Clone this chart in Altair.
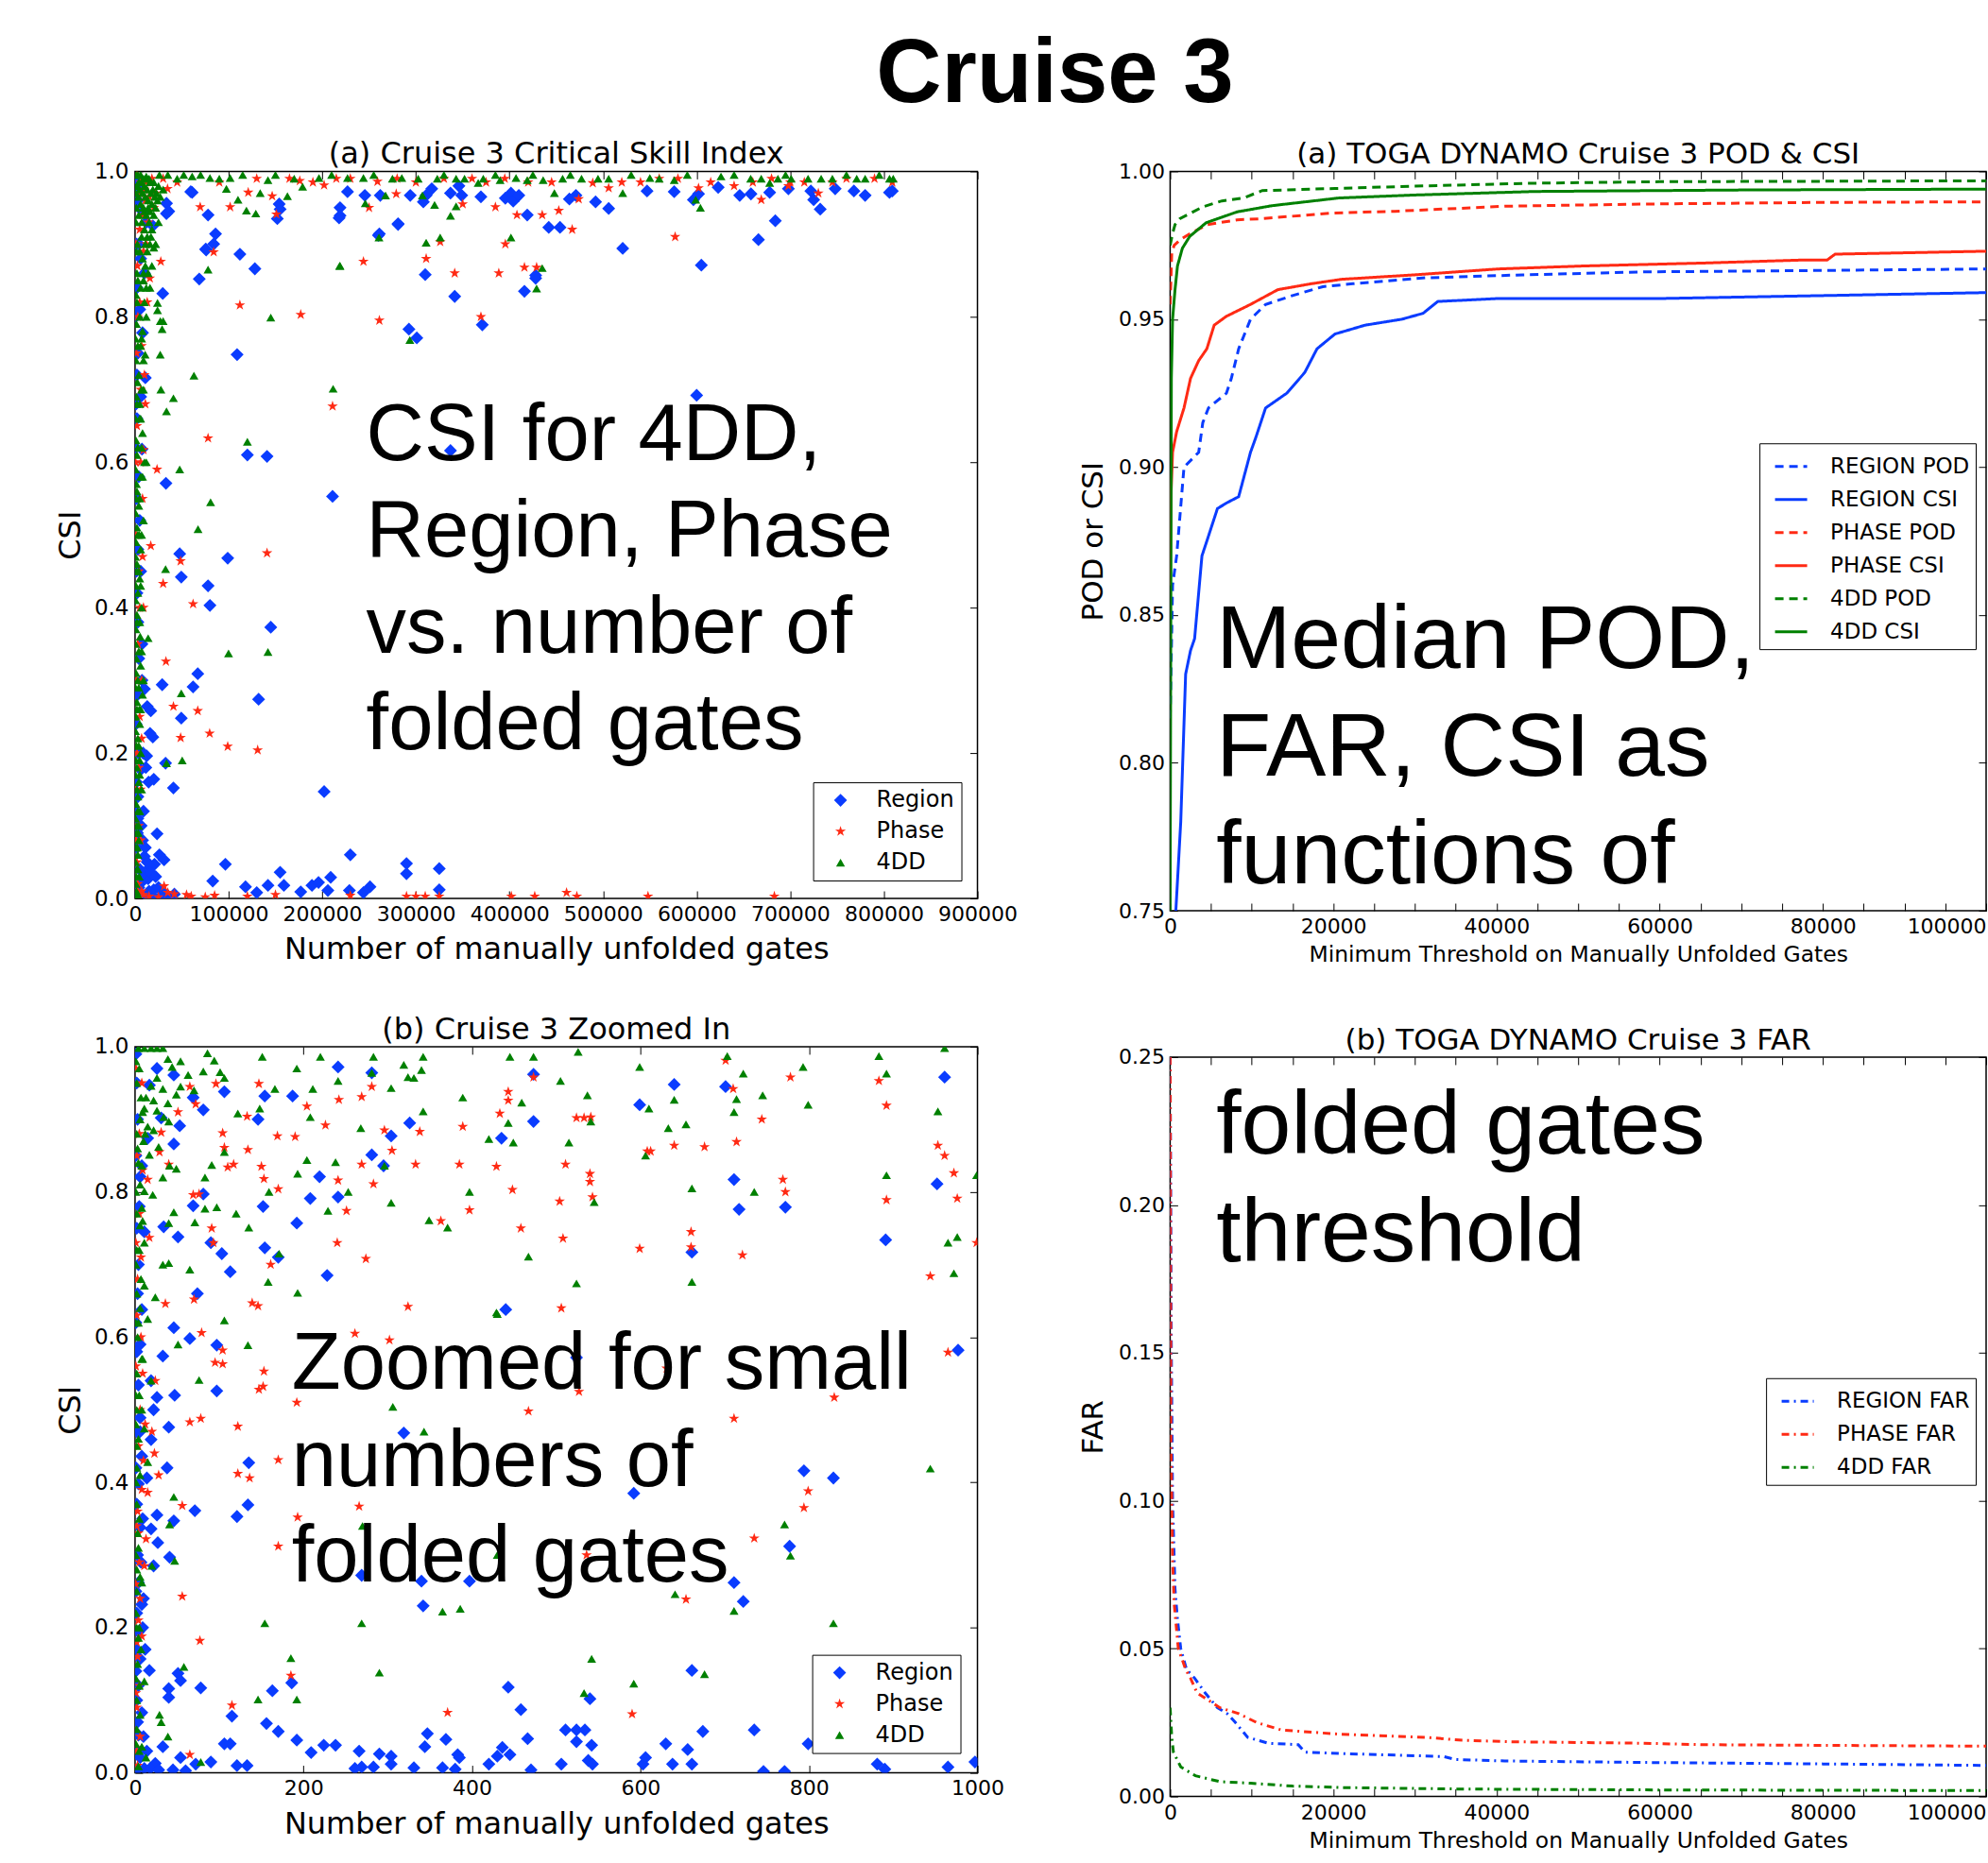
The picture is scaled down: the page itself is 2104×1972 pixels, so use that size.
import altair as alt
import pandas as pd

BLUE = "#0a3cff"
RED = "#ff2a14"
GREEN = "#008000"
TICK = 8

# ---------------- scatter panels: (gates, CSI) pairs ----------------
SCATTER_NAMES = ["Region", "Phase", "4DD"]
SCATTER_COLORS = [BLUE, RED, GREEN]
STAR = ("M0,-1L0.2245,-0.309L0.951,-0.309L0.363,0.118L0.588,0.809L0,0.382"
        "L-0.588,0.809L-0.363,0.118L-0.951,-0.309L-0.2245,-0.309Z")
SCATTER_SHAPES = ["diamond", STAR, "triangle-up"]
SCATTER_SIZES = [190, 90, 300]

A_REGION = [
    (2000, 0.99), (5000, 0.975), (3000, 0.96), (8000, 0.945), (12000, 0.93), (19000, 0.925), (4000, 0.9),
    (6000, 0.88), (10000, 0.86), (2000, 0.84), (29600, 0.832), (5000, 0.81), (8000, 0.778), (3000, 0.75),
    (11000, 0.716), (6000, 0.69), (2000, 0.66), (7400, 0.618), (4000, 0.58), (2000, 0.55), (5000, 0.52),
    (3000, 0.48), (6000, 0.45), (2000, 0.42), (7400, 0.35), (3000, 0.38), (4000, 0.33), (7400, 0.30),
    (10000, 0.288), (13000, 0.264), (16800, 0.258), (16000, 0.227), (19000, 0.222), (12400, 0.196),
    (6000, 0.177), (20000, 0.164), (3000, 0.14), (3000, 0.11), (23500, 0.089), (26000, 0.06), (31000, 0.053),
    (20800, 0.047), (16000, 0.043), (10000, 0.058), (14000, 0.027), (6000, 0.021), (5000, 0.04), (2000, 0.07),
    (8000, 0.08), (29000, 0.01), (35000, 0.004), (42000, 0.006), (12000, 0.005), (20000, 0.012), (1000, 0.003),
    (4000, 0.015), (9000, 0.035), (33600, 0.956), (36000, 0.945), (33500, 0.942),
    (500, 0.62), (1000, 0.55), (1500, 0.45), (500, 0.38), (2500, 0.28), (1000, 0.24), (3500, 0.2),
    (1500, 0.16), (500, 0.12), (2500, 0.09), (6500, 0.1), (9000, 0.12), (11000, 0.07), (13000, 0.05),
    (17000, 0.035), (22000, 0.03), (25000, 0.015), (15000, 0.01), (7000, 0.005), (18000, 0.004),
    (28000, 0.004), (8500, 0.2), (11500, 0.18), (14500, 0.16), (500, 0.8), (1500, 0.9), (2000, 0.72),
    (1000, 0.68),
    (59500, 0.972), (61000, 0.971), (76000, 0.892), (75500, 0.893), (68600, 0.852), (112000, 0.886),
    (128000, 0.866), (109000, 0.748), (120000, 0.61), (141000, 0.608), (211000, 0.553), (33000, 0.571),
    (47700, 0.474), (49400, 0.442), (99000, 0.468), (78000, 0.43), (80000, 0.403), (145000, 0.373),
    (67000, 0.309), (62000, 0.291), (29000, 0.294), (132000, 0.274), (49400, 0.248), (32600, 0.186),
    (41000, 0.152), (202000, 0.147), (230000, 0.06), (96500, 0.047), (83000, 0.024), (155000, 0.036),
    (118000, 0.016), (130000, 0.008), (142000, 0.018), (159000, 0.018), (177000, 0.009), (189000, 0.018),
    (196000, 0.022), (209000, 0.029), (206000, 0.011), (229000, 0.011), (244000, 0.008), (251000, 0.016),
    (290000, 0.048), (290000, 0.034), (325000, 0.041), (325000, 0.012), (78000, 0.94), (154000, 0.955),
    (152000, 0.935), (219000, 0.95), (219000, 0.939), (227000, 0.972), (245500, 0.967), (262000, 0.967),
    (281000, 0.928), (261000, 0.914), (294000, 0.967), (308000, 0.958), (311000, 0.967), (317000, 0.976),
    (337000, 0.97), (349000, 0.967), (346000, 0.98), (369500, 0.965), (395600, 0.963), (401600, 0.97),
    (404000, 0.959), (410000, 0.967), (419000, 0.94), (442000, 0.923), (454000, 0.923), (428000, 0.853),
    (428000, 0.857), (310000, 0.858), (341500, 0.828), (416000, 0.835), (371000, 0.789), (292600, 0.783),
    (301000, 0.771), (464000, 0.962), (471000, 0.967), (492000, 0.958), (506000, 0.949), (521000, 0.894),
    (547000, 0.973), (576000, 0.972), (605000, 0.871), (596500, 0.961), (602000, 0.969), (600000, 0.692),
    (623000, 0.978), (646000, 0.967), (658000, 0.969), (666000, 0.906), (684000, 0.932), (678000, 0.971),
    (698000, 0.976), (722000, 0.973), (725000, 0.961), (732000, 0.948), (748000, 0.976), (768000, 0.973),
    (780000, 0.967), (806000, 0.971), (809000, 0.973), (337000, 0.616), (84000, 0.9), (86000, 0.914),
    (155000, 0.948), (218000, 0.936), (281000, 0.927), (260000, 0.912),
]
A_PHASE = [
    (2000, 0.995), (6000, 0.985), (10000, 0.975), (15000, 0.965), (34700, 0.976), (20000, 0.95), (8000, 0.94),
    (27500, 0.876), (15800, 0.853), (12000, 0.9), (5000, 0.92), (9000, 0.617), (4000, 0.45), (16800, 0.485),
    (23500, 0.59), (3000, 0.8), (6000, 0.7), (2000, 0.65), (8000, 0.55), (3000, 0.35), (5000, 0.25),
    (2000, 0.2), (6000, 0.15), (4000, 0.1), (2000, 0.05), (7000, 0.3), (9000, 0.4), (3000, 0.02),
    (10000, 0.72), (5000, 0.82),
    (1000, 0.9), (1500, 0.75), (500, 0.6), (1000, 0.5), (1500, 0.3), (500, 0.15), (1000, 0.08), (2500, 0.87),
    (4500, 0.97), (12000, 0.985), (18000, 0.99), (22000, 0.97), (30000, 0.99), (45000, 0.985),
    (11000, 0.96), (14000, 0.93), (9000, 0.89), (13000, 0.82), (7000, 0.76), (11000, 0.68), (6000, 0.6),
    (8000, 0.47), (5000, 0.4), (7000, 0.22), (4000, 0.18), (6000, 0.08), (3000, 0.01),
    (90000, 0.985), (130000, 0.99), (165000, 0.99), (190000, 0.985), (215000, 0.99), (300000, 0.985),
    (330000, 0.99), (375000, 0.985), (395000, 0.99), (445000, 0.985), (540000, 0.985), (580000, 0.99),
    (615000, 0.985), (660000, 0.985), (680000, 0.99), (715000, 0.985), (745000, 0.985), (790000, 0.99),
    (7000, 0.01), (9000, 0.005), (15000, 0.003), (25000, 0.002), (55000, 0.005), (75000, 0.002),
    (85000, 0.004),
    (69600, 0.951), (101600, 0.951), (120900, 0.971), (146500, 0.966), (151000, 0.941), (176000, 0.987),
    (202000, 0.981), (250000, 0.95), (259000, 0.986), (279000, 0.969), (311000, 0.88), (326000, 0.903),
    (341500, 0.86), (350000, 0.955), (385000, 0.951), (388600, 0.86), (395600, 0.9), (408000, 0.94),
    (416000, 0.868), (429000, 0.868), (435000, 0.94), (452700, 0.946), (467000, 0.92), (474000, 0.962),
    (489000, 0.984), (506000, 0.977), (577000, 0.91), (602000, 0.977), (669000, 0.961), (698000, 0.98),
    (809000, 0.985), (244000, 0.876), (112000, 0.816), (177000, 0.803), (261000, 0.795), (369500, 0.8),
    (84000, 0.889), (78000, 0.633), (211000, 0.677), (141000, 0.475), (48700, 0.464), (30000, 0.433),
    (62000, 0.405), (33000, 0.326), (41000, 0.264), (67000, 0.258), (48700, 0.221), (79700, 0.227),
    (99000, 0.209), (131000, 0.204), (290000, 0.003), (300000, 0.003), (310000, 0.003), (325000, 0.003),
    (402000, 0.003), (427000, 0.003), (461000, 0.008), (472000, 0.003), (548000, 0.003), (683000, 0.003),
    (31000, 0.017), (35000, 0.008), (42000, 0.006), (60000, 0.003), (120000, 0.003), (150000, 0.005),
    (230000, 0.004), (700000, 0.985), (730000, 0.97), (760000, 0.99), (640000, 0.98), (560000, 0.99),
    (520000, 0.985), (420000, 0.985), (360000, 0.99), (230000, 0.99), (280000, 0.99),
]
A_4DD = [
    (1000, 0.995), (3000, 0.995), (6000, 0.995), (9000, 0.99), (12000, 0.993), (15000, 0.99), (20000, 0.985),
    (25000, 0.98), (2000, 0.98), (5000, 0.975), (8000, 0.97), (11000, 0.965), (14000, 0.96), (18000, 0.955),
    (22000, 0.95), (1500, 0.95), (4000, 0.94), (7000, 0.93), (10000, 0.92), (13000, 0.91), (16000, 0.9),
    (20000, 0.895), (2500, 0.9), (5000, 0.89), (8000, 0.88), (11000, 0.87), (14000, 0.86), (3000, 0.85),
    (6000, 0.84), (24000, 0.819), (27000, 0.794), (30000, 0.794), (2000, 0.82), (5000, 0.8), (8000, 0.78),
    (10800, 0.748), (3000, 0.76), (26900, 0.748), (4000, 0.72), (7000, 0.7), (27600, 0.7), (2000, 0.68),
    (33600, 0.67), (5000, 0.66), (8000, 0.64), (3000, 0.62), (12000, 0.6), (6000, 0.58), (2000, 0.56),
    (4000, 0.54), (9000, 0.52), (3000, 0.5), (6000, 0.48), (2000, 0.46), (5000, 0.44), (3000, 0.42),
    (7000, 0.4), (2000, 0.38), (14000, 0.358), (4000, 0.34), (6000, 0.32), (3000, 0.3), (8000, 0.28),
    (2000, 0.26), (5000, 0.24), (3000, 0.22), (6000, 0.2), (2000, 0.18), (4000, 0.16), (3000, 0.14),
    (5000, 0.12), (2000, 0.1), (4000, 0.08), (3000, 0.06), (2000, 0.04), (1000, 0.02), (3000, 0.005),
    (10000, 0.6), (9000, 0.3), (7000, 0.15),
    (500, 0.97), (1000, 0.93), (1500, 0.89), (2000, 0.86), (1000, 0.83), (1500, 0.79), (500, 0.77),
    (1000, 0.74), (2500, 0.71), (1500, 0.69), (500, 0.66), (1000, 0.63), (2000, 0.61), (500, 0.59),
    (1500, 0.57), (1000, 0.55), (500, 0.53), (2000, 0.51), (1000, 0.49), (500, 0.47), (1500, 0.45),
    (1000, 0.43), (500, 0.41), (2000, 0.39), (1000, 0.37), (500, 0.35), (1500, 0.33), (1000, 0.31),
    (500, 0.29), (2000, 0.27), (1000, 0.25), (500, 0.23), (1500, 0.21), (1000, 0.19), (500, 0.17),
    (2000, 0.15), (1000, 0.13), (500, 0.11), (1500, 0.09), (1000, 0.07), (500, 0.05), (1500, 0.03),
    (4000, 0.985), (7000, 0.985), (10000, 0.98), (13000, 0.975), (17000, 0.97), (21000, 0.965),
    (24000, 0.96), (16000, 0.945), (12000, 0.94), (9000, 0.95), (6000, 0.955), (3500, 0.965), (18000, 0.92),
    (15000, 0.93), (11000, 0.9), (7000, 0.91), (9000, 0.86), (12000, 0.84), (10000, 0.82), (6000, 0.76),
    (9000, 0.74), (5000, 0.68), (7000, 0.62), (4500, 0.5), (5500, 0.36), (4500, 0.26), (5000, 0.19),
    (3500, 0.09), (4500, 0.03),
    (16000, 0.985), (19000, 0.975), (23000, 0.97), (27000, 0.965), (30000, 0.975), (20000, 0.94),
    (25000, 0.93), (14000, 0.95), (10000, 0.945), (17000, 0.91), (22000, 0.9), (13000, 0.89), (18000, 0.87),
    (9000, 0.85), (16000, 0.84), (12000, 0.8), (7000, 0.77), (9000, 0.7), (6000, 0.66), (8000, 0.58),
    (5000, 0.55), (7000, 0.5), (4000, 0.45), (6000, 0.43), (5000, 0.38), (7000, 0.34), (4000, 0.29),
    (6000, 0.26), (4000, 0.21), (5000, 0.17), (3000, 0.12), (4000, 0.1), (2500, 0.07), (3000, 0.04),
    (1500, 0.01),
    (26000, 0.995), (35000, 0.995), (45000, 0.99), (52000, 0.995),
    (70000, 0.995), (90000, 0.99), (115000, 0.995), (150000, 0.995), (170000, 0.99), (210000, 0.995),
    (255000, 0.995), (275000, 0.99), (330000, 0.995), (385000, 0.995), (425000, 0.995), (465000, 0.995),
    (530000, 0.995), (560000, 0.99), (590000, 0.995), (640000, 0.995), (695000, 0.995), (760000, 0.995),
    (795000, 0.995), (810000, 0.99),
    (61000, 0.993), (80000, 0.991), (101600, 0.991), (97600, 0.976), (110000, 0.961), (119000, 0.946),
    (129000, 0.942), (133700, 0.97), (142000, 0.988), (162800, 0.966), (179000, 0.979), (196500, 0.991),
    (227000, 0.991), (244000, 0.991), (246000, 0.956), (267600, 0.967), (285000, 0.991), (302500, 0.99),
    (322900, 0.99), (343000, 0.99), (352000, 0.99), (372000, 0.99), (307000, 0.967), (320000, 0.954),
    (337000, 0.939), (343000, 0.952), (366600, 0.984), (390000, 0.988), (407000, 0.991), (419000, 0.988),
    (436000, 0.988), (448000, 0.97), (456800, 0.99), (477000, 0.99), (494600, 0.99), (506000, 0.99),
    (521000, 0.97), (550000, 0.991), (576000, 0.988), (599000, 0.961), (604000, 0.95), (626000, 0.993),
    (657700, 0.99), (669000, 0.99), (678000, 0.984), (686800, 0.99), (701000, 0.99), (719000, 0.99),
    (733000, 0.99), (745000, 0.99), (771000, 0.99), (780000, 0.99), (806000, 0.99), (311000, 0.902),
    (326000, 0.909), (260600, 0.909), (401600, 0.909), (435000, 0.867), (429000, 0.839), (293600, 0.768),
    (219000, 0.87), (78000, 0.865), (145000, 0.799), (218600, 0.87), (62900, 0.719), (41000, 0.688),
    (211600, 0.701), (120000, 0.628), (47700, 0.59), (80700, 0.545), (67300, 0.508), (32600, 0.453),
    (99900, 0.337), (142000, 0.339), (49400, 0.282), (33600, 0.186), (50400, 0.19), (28900, 0.783),
    (24000, 0.809),
]

C_REGION = [
    (46, 0.961), (69, 0.93), (81, 0.913), (106, 0.938), (26, 0.97), (17, 0.947), (31, 0.902), (46, 0.866),
    (53, 0.891), (69, 0.781), (81, 0.797), (34, 0.752), (51, 0.738), (90, 0.73), (103, 0.715), (113, 0.69),
    (74, 0.66), (97, 0.589), (97, 0.526), (47, 0.52), (26, 0.517), (46, 0.613), (65, 0.598), (33, 0.574),
    (40, 0.476), (38, 0.42), (46, 0.347), (71, 0.361), (121, 0.353), (134, 0.369), (135, 0.427), (26, 0.355),
    (27, 0.317), (41, 0.297), (19, 0.336), (22, 0.285), (154, 0.932), (146, 0.9), (152, 0.78), (154, 0.723),
    (170, 0.71), (187, 0.932), (192, 0.757), (208, 0.791), (219, 0.821), (228, 0.685), (241, 0.793),
    (241, 0.972), (281, 0.851), (281, 0.964), (295, 0.836), (304, 0.877), (326, 0.895), (319, 0.468),
    (269, 0.272), (340, 0.264), (342, 0.23), (397, 0.264), (435, 0.874), (440, 0.638), (473, 0.897),
    (473, 0.962), (524, 0.572), (592, 0.385), (599, 0.92), (640, 0.948), (661, 0.717), (711, 0.817),
    (711, 0.262), (717, 0.776), (701, 0.945), (722, 0.236), (772, 0.779), (777, 0.312), (794, 0.416),
    (829, 0.406), (891, 0.734), (952, 0.811), (961, 0.958), (977, 0.582),
    (17, 0.141), (40, 0.116), (40, 0.104), (51, 0.137), (54, 0.127), (78, 0.117), (115, 0.078), (106, 0.04),
    (113, 0.04), (156, 0.068), (163, 0.113), (170, 0.057), (186, 0.124), (192, 0.045), (209, 0.028),
    (224, 0.038), (238, 0.038), (266, 0.03), (290, 0.026), (304, 0.023), (304, 0.012), (331, 0.007),
    (344, 0.036), (347, 0.054), (369, 0.046), (383, 0.025), (385, 0.021), (420, 0.012), (430, 0.023),
    (436, 0.035), (443, 0.118), (445, 0.025), (458, 0.087), (466, 0.047), (506, 0.012), (511, 0.059),
    (524, 0.059), (524, 0.043), (534, 0.059), (538, 0.017), (542, 0.038), (540, 0.102), (543, 0.012),
    (603, 0.012), (606, 0.021), (630, 0.04), (638, 0.012), (656, 0.032), (661, 0.141), (661, 0.012),
    (674, 0.057), (735, 0.059), (746, 0.002), (771, 0.002), (799, 0.04), (881, 0.012), (890, 0.005),
    (965, 0.008), (997, 0.015), (121, 0.01), (133, 0.01), (90, 0.015), (72, 0.012), (54, 0.021), (33, 0.036),
    (24, 0.013), (269, 0.008), (261, 0.006), (283, 0.008), (365, 0.007), (380, 0.005), (470, 0.004),
    (4, 0.262), (8, 0.232), (6, 0.338), (4, 0.398), (8, 0.436), (6, 0.489), (4, 0.534), (6, 0.59), (8, 0.638),
    (4, 0.7), (11, 0.745), (6, 0.821), (8, 0.836), (15, 0.874), (4, 0.194), (6, 0.157), (4, 0.12), (8, 0.083),
    (4, 0.052), (6, 0.021), (11, 0.006), (19, 0.54), (22, 0.5), (19, 0.459), (14, 0.406), (2, 0.95), (3, 0.9),
    (5, 0.78), (3, 0.66), (2, 0.47), (3, 0.3), (2, 0.17), (3, 0.07),
    (1, 0.99), (1, 0.85), (2, 0.75), (1, 0.62), (2, 0.58), (1, 0.42), (2, 0.37), (1, 0.25), (2, 0.22),
    (1, 0.14), (2, 0.1), (1, 0.03), (3, 0.005), (6, 0.47), (9, 0.35), (7, 0.29), (10, 0.24), (9, 0.2),
    (12, 0.17), (10, 0.05), (14, 0.03), (18, 0.006), (28, 0.004), (45, 0.004), (60, 0.003),
]
C_PHASE = [
    (65, 0.945), (72, 0.921), (51, 0.91), (31, 0.882), (29, 0.855), (40, 0.838), (15, 0.817), (69, 0.796),
    (76, 0.797), (91, 0.75), (93, 0.73), (106, 0.861), (104, 0.881), (110, 0.834), (117, 0.838), (96, 0.949),
    (134, 0.858), (150, 0.835), (153, 0.818), (170, 0.804), (161, 0.7), (139, 0.647), (146, 0.643),
    (104, 0.582), (70, 0.652), (79, 0.606), (65, 0.483), (78, 0.488), (122, 0.477), (122, 0.412),
    (136, 0.406), (170, 0.431), (170, 0.312), (193, 0.352), (153, 0.553), (152, 0.532), (147, 0.528),
    (104, 0.563), (95, 0.565), (56, 0.368), (56, 0.243), (77, 0.182), (115, 0.093), (185, 0.134), (65, 0.025),
    (133, 0.904), (147, 0.949), (169, 0.877), (190, 0.876), (192, 0.51), (204, 0.918), (226, 0.892),
    (242, 0.927), (241, 0.816), (251, 0.774), (240, 0.73), (261, 0.605), (266, 0.367), (269, 0.931),
    (269, 0.838), (274, 0.708), (281, 0.945), (283, 0.811), (296, 0.885), (305, 0.857), (302, 0.596),
    (324, 0.642), (333, 0.838), (338, 0.883), (363, 0.76), (371, 0.083), (389, 0.89), (385, 0.838),
    (397, 0.775), (429, 0.835), (433, 0.908), (443, 0.938), (443, 0.926), (448, 0.803), (458, 0.75),
    (467, 0.498), (473, 0.958), (504, 0.787), (508, 0.736), (506, 0.64), (511, 0.838), (524, 0.902),
    (533, 0.902), (541, 0.903), (540, 0.825), (540, 0.814), (543, 0.793), (527, 0.525), (536, 0.3),
    (590, 0.081), (599, 0.722), (608, 0.856), (612, 0.856), (631, 0.557), (640, 0.864), (660, 0.745),
    (660, 0.724), (654, 0.239), (676, 0.862), (701, 0.981), (710, 0.942), (714, 0.869), (711, 0.488),
    (721, 0.713), (735, 0.323), (744, 0.9), (769, 0.817), (772, 0.8), (778, 0.958), (794, 0.365),
    (799, 0.388), (830, 0.517), (883, 0.953), (892, 0.919), (892, 0.789), (944, 0.684), (953, 0.864),
    (961, 0.85), (972, 0.826), (976, 0.791), (965, 0.579), (999, 0.73),
    (4, 0.21), (8, 0.188), (11, 0.285), (13, 0.322), (15, 0.386), (20, 0.47), (24, 0.54), (36, 0.646),
    (17, 0.737), (3, 0.16), (5, 0.12), (2, 0.09), (6, 0.05), (3, 0.36), (4, 0.45), (7, 0.6), (3, 0.68),
    (5, 0.77), (8, 0.95), (2, 0.03), (10, 0.43), (28, 0.41), (12, 0.48), (23, 0.44),
    (1, 0.97), (2, 0.85), (1, 0.73), (2, 0.63), (1, 0.56), (2, 0.34), (1, 0.26), (2, 0.18), (1, 0.11),
    (3, 0.01), (5, 0.29), (6, 0.24), (4, 0.33), (8, 0.39), (6, 0.5), (9, 0.55), (7, 0.71), (9, 0.83), (5, 0.88),
]
C_4DD = [
    (4, 0.998), (11, 0.998), (19, 0.998), (26, 0.998), (33, 0.998), (39, 0.983), (44, 0.972), (26, 0.957),
    (19, 0.946), (33, 0.942), (13, 0.93), (22, 0.926), (39, 0.922), (49, 0.934), (54, 0.945), (11, 0.915),
    (26, 0.912), (34, 0.903), (40, 0.897), (6, 0.9), (15, 0.89), (22, 0.885), (10, 0.87), (28, 0.862),
    (17, 0.851), (8, 0.836), (41, 0.836), (49, 0.832), (33, 0.82), (11, 0.801), (21, 0.796), (8, 0.778),
    (46, 0.772), (40, 0.757), (6, 0.754), (11, 0.73), (33, 0.7), (40, 0.702), (11, 0.671), (24, 0.655),
    (6, 0.64), (15, 0.625), (51, 0.59), (8, 0.57), (19, 0.54), (8, 0.5), (11, 0.474), (15, 0.428), (46, 0.38),
    (41, 0.342), (47, 0.292), (20, 0.285), (8, 0.262), (4, 0.186), (11, 0.126), (29, 0.08), (39, 0.05),
    (8, 0.036), (13, 0.021), (4, 0.009), (2, 0.95), (3, 0.86), (2, 0.72), (3, 0.6), (2, 0.45), (3, 0.33),
    (2, 0.25), (3, 0.15), (2, 0.06),
    (1, 0.98), (2, 0.88), (1, 0.8), (2, 0.77), (1, 0.7), (2, 0.66), (1, 0.62), (2, 0.55), (1, 0.52), (2, 0.5),
    (1, 0.48), (2, 0.42), (1, 0.4), (2, 0.37), (1, 0.3), (2, 0.28), (1, 0.22), (2, 0.2), (1, 0.13), (2, 0.1),
    (1, 0.04), (5, 0.97), (7, 0.93), (9, 0.91), (12, 0.88), (4, 0.84), (6, 0.81), (9, 0.76), (5, 0.72),
    (7, 0.68), (4, 0.62), (9, 0.57), (5, 0.52), (4, 0.46), (6, 0.41), (5, 0.35), (4, 0.31), (6, 0.27),
    (5, 0.2), (7, 0.17), (5, 0.12), (6, 0.08), (5, 0.03),
    (54, 0.98), (63, 0.961), (70, 0.94), (81, 0.966), (86, 0.991), (94, 0.981), (101, 0.965), (106, 0.957),
    (122, 0.908), (91, 0.837), (83, 0.82), (71, 0.758), (83, 0.777), (97, 0.779), (106, 0.855), (120, 0.77),
    (135, 0.751), (65, 0.693), (76, 0.541), (106, 0.623), (134, 0.589), (151, 0.986), (148, 0.915),
    (166, 0.942), (159, 0.8), (171, 0.715), (158, 0.676), (193, 0.661), (193, 0.825), (192, 0.97),
    (204, 0.844), (208, 0.903), (211, 0.942), (220, 0.986), (229, 0.774), (238, 0.841), (241, 0.953),
    (253, 0.8), (268, 0.888), (281, 0.964), (283, 0.986), (296, 0.836), (304, 0.943), (304, 0.785),
    (306, 0.504), (319, 0.975), (324, 0.958), (331, 0.957), (340, 0.968), (342, 0.911), (342, 0.986),
    (349, 0.761), (371, 0.751), (389, 0.93), (397, 0.8), (420, 0.873), (430, 0.632), (443, 0.895),
    (445, 0.986), (449, 0.868), (459, 0.923), (467, 0.711), (473, 0.986), (505, 0.953), (515, 0.868),
    (524, 0.674), (526, 0.993), (537, 0.933), (541, 0.897), (545, 0.786), (599, 0.972), (606, 0.85),
    (610, 0.915), (633, 0.888), (640, 0.927), (654, 0.893), (661, 0.805), (661, 0.676), (703, 0.987),
    (711, 0.91), (714, 0.928), (722, 0.963), (735, 0.8), (745, 0.933), (793, 0.972), (799, 0.92),
    (883, 0.987), (892, 0.963), (892, 0.823), (953, 0.911), (961, 0.998), (965, 0.73), (972, 0.688),
    (976, 0.738), (999, 0.823),
    (944, 0.419), (771, 0.342), (778, 0.299), (829, 0.206), (711, 0.223), (641, 0.246), (365, 0.222),
    (386, 0.226), (269, 0.206), (154, 0.206), (192, 0.101), (185, 0.158), (146, 0.101), (290, 0.138),
    (58, 0.146), (31, 0.07), (78, 0.015), (533, 0.11), (542, 0.157), (592, 0.123), (676, 0.136),
    (429, 0.634), (270, 0.34), (430, 0.3), (343, 0.47),
]

# ---------------- line panels ----------------
B_NAMES = ["REGION POD", "REGION CSI", "PHASE POD", "PHASE CSI", "4DD POD", "4DD CSI"]
B_COLORS = [BLUE, BLUE, RED, RED, GREEN, GREEN]
B_DASHES = [[9, 6], [1, 0], [9, 6], [1, 0], [9, 6], [1, 0]]

REGION_POD_X = [0, 300, 800, 1700, 3500, 4000, 4700, 6900, 7500, 8400, 9850, 11700, 15000, 18700, 22400,
                31300, 43200, 58000, 80200, 100000]
REGION_POD_Y = [0.815, 0.86, 0.87, 0.9, 0.905, 0.915, 0.92, 0.925, 0.93, 0.94, 0.95, 0.955, 0.958, 0.961,
                0.962, 0.964, 0.965, 0.966, 0.9665, 0.967]
REGION_CSI_X = [700, 1000, 1300, 1900, 2500, 3000, 3900, 4500, 5800, 7000, 8400, 9850, 10500, 11700, 14300,
                16500, 18000, 20200, 23900, 28400, 31000, 32800, 40200, 60000, 80200, 100000]
REGION_CSI_Y = [0.75, 0.765, 0.78, 0.83, 0.838, 0.842, 0.87, 0.875, 0.886, 0.888, 0.89, 0.905, 0.91, 0.92,
                0.925, 0.932, 0.94, 0.945, 0.948, 0.95, 0.952, 0.956, 0.957, 0.957, 0.958, 0.959]
PHASE_POD_X = [0, 200, 500, 1300, 2400, 4600, 8200, 11300, 19700, 27500, 41000, 50000, 60000, 80000, 100000]
PHASE_POD_Y = [0.955, 0.9725, 0.975, 0.977, 0.9789, 0.982, 0.9836, 0.984, 0.9859, 0.9865, 0.9882, 0.9886,
               0.989, 0.9895, 0.9897]
PHASE_CSI_X = [0, 100, 300, 800, 1700, 2500, 3500, 4500, 5400, 6900, 9850, 13200, 17300, 21000, 29900, 40200,
               50600, 65400, 77300, 80500, 81500, 100000]
PHASE_CSI_Y = [0.86, 0.89, 0.905, 0.912, 0.92, 0.93, 0.936, 0.94, 0.948, 0.951, 0.955, 0.96, 0.962, 0.9635,
               0.965, 0.967, 0.968, 0.969, 0.97, 0.97, 0.972, 0.973]
DD_POD_X = [0, 300, 600, 1200, 2400, 4000, 6350, 9000, 11300, 20200, 30000, 44800, 60000, 100000]
DD_POD_Y = [0.975, 0.979, 0.982, 0.984, 0.9857, 0.988, 0.99, 0.991, 0.9935, 0.9942, 0.995, 0.996, 0.9965, 0.9968]
DD_CSI_X = [0, 150, 300, 600, 900, 1500, 2400, 4400, 8200, 12500, 20700, 30000, 44800, 70000, 100000]
DD_CSI_Y = [0.75, 0.93, 0.95, 0.96, 0.968, 0.974, 0.978, 0.9826, 0.9863, 0.9884, 0.991, 0.992, 0.9932,
            0.9937, 0.994]

D_NAMES = ["REGION FAR", "PHASE FAR", "4DD FAR"]
D_COLORS = [BLUE, RED, GREEN]
D_DASHES = [[8, 5, 2, 5], [8, 5, 2, 5], [8, 5, 2, 5]]
REGION_FAR_X = [0, 150, 300, 600, 900, 1300, 2000, 3000, 4300, 5800, 7000, 8000, 9500, 12000, 15700, 16500,
                21000, 33500, 35000, 41000, 58000, 80000, 100000]
REGION_FAR_Y = [0.25, 0.15, 0.10, 0.07, 0.06, 0.05, 0.043, 0.04, 0.035, 0.03, 0.028, 0.025, 0.02, 0.018,
                0.0175, 0.015, 0.0145, 0.0135, 0.0125, 0.012, 0.0115, 0.011, 0.0105]
PHASE_FAR_X = [0, 100, 300, 500, 1000, 1900, 2500, 3300, 6100, 8400, 10600, 13600, 21000, 31300, 35800, 41700,
               58000, 65400, 100000]
PHASE_FAR_Y = [0.25, 0.12, 0.08, 0.065, 0.05, 0.043, 0.04, 0.035, 0.03, 0.028, 0.025, 0.0225, 0.021, 0.02,
               0.019, 0.0185, 0.018, 0.0175, 0.017]
DD_FAR_X = [0, 200, 400, 1300, 3100, 6100, 9850, 15000, 21000, 35800, 60000, 100000]
DD_FAR_Y = [0.03, 0.02, 0.015, 0.01, 0.007, 0.005, 0.0045, 0.0035, 0.003, 0.0025, 0.0022, 0.002]

# ---------------- ticks ----------------
A_XTICKS = [0, 100000, 200000, 300000, 400000, 500000, 600000, 700000, 800000, 900000]
CSI_TICKS = [0.0, 0.2, 0.4, 0.6, 0.8, 1.0]
C_XTICKS = [0, 200, 400, 600, 800, 1000]
BD_XTICKS = [0, 5000, 10000, 15000, 20000, 25000, 30000, 35000, 40000, 45000, 50000, 55000, 60000, 65000,
             70000, 75000, 80000, 85000, 90000, 95000, 100000]
B_YTICKS = [0.75, 0.80, 0.85, 0.90, 0.95, 1.00]
D_YTICKS = [0.00, 0.05, 0.10, 0.15, 0.20, 0.25]

# ---------------- overlay notes (data coordinates) ----------------
A_NOTE = ["CSI for 4DD,", "Region, Phase", "vs. number of", "folded gates"]
A_NOTE_X = 247000
A_NOTE_Y = [0.603, 0.470, 0.338, 0.205]
C_NOTE = ["Zoomed for small", "numbers of", "folded gates"]
C_NOTE_X = 186
C_NOTE_Y = [0.529, 0.395, 0.264]
B_NOTE = ["Median POD,", "FAR, CSI as", "functions of"]
B_NOTE_X = 5650
B_NOTE_Y = [0.832, 0.7957, 0.7594]
D_NOTE = ["folded gates", "threshold"]
D_NOTE_X = 5650
D_NOTE_Y = [0.2174, 0.181]

FONT = "DejaVu Sans"
NOTE_FONT = "Liberation Sans"


def x_axis(vals, fmt, title, lsize, tsize, lpad, tpad, expr=None, align=None):
    kw = dict(orient="bottom", values=vals, format=fmt, title=title, labelFontSize=lsize,
              titleFontSize=tsize, labelPadding=lpad, titlePadding=tpad)
    if expr:
        kw["labelExpr"] = expr
    if align:
        kw["labelAlign"] = align
    return alt.Axis(**kw)


def y_axis(vals, fmt, title, lsize, tsize, lpad, tpad):
    return alt.Axis(orient="left", values=vals, format=fmt, title=title, labelFontSize=lsize,
                    titleFontSize=tsize, labelPadding=lpad, titlePadding=tpad)


def ghost_layer(xs, ys, xdom, ydom, xvals, yvals):
    df = pd.DataFrame({"x": xdom, "y": ydom})
    return alt.Chart(df).mark_point(opacity=0, size=1).encode(
        x=alt.X("x:Q", scale=xs, axis=alt.Axis(orient="top", values=xvals, labels=False, title=None)),
        y=alt.Y("y:Q", scale=ys, axis=alt.Axis(orient="right", values=yvals, labels=False, title=None)),
    )


def note_layer(lines, nx, ny, xs, ys, size):
    df = pd.DataFrame({"x": [nx] * len(lines), "y": ny, "t": lines})
    return alt.Chart(df).mark_text(align="left", baseline="alphabetic", font=NOTE_FONT, fontSize=size,
                                   color="black").encode(
        x=alt.X("x:Q", scale=xs, axis=None),
        y=alt.Y("y:Q", scale=ys, axis=None),
        text="t:N",
    )


def scatter_panel(reg, ph, dd, xdom, xvals, xfmt, title, notes, nx, ny, lx, ly, w, h):
    rows = []
    for name, pts in zip(SCATTER_NAMES, (reg, ph, dd)):
        for x, y in pts:
            rows.append({"x": x, "y": y, "series": name})
    df = pd.DataFrame(rows)
    xs = alt.Scale(domain=xdom, nice=False, zero=False)
    ys = alt.Scale(domain=[0, 1], nice=False, zero=False)
    leg = alt.Legend(title=None, orient="none", legendX=lx, legendY=ly, strokeColor="black",
                     fillColor="white", padding=7, symbolOffset=10, labelOffset=26, rowPadding=9,
                     labelFont=FONT, labelFontSize=24, labelColor="black", cornerRadius=0)
    pts = alt.Chart(df).mark_point(filled=True, opacity=1, strokeWidth=0, clip=True).encode(
        x=alt.X("x:Q", scale=xs, axis=x_axis(xvals, xfmt, "Number of manually unfolded gates", 22, 32, 6, 12)),
        y=alt.Y("y:Q", scale=ys, axis=y_axis(CSI_TICKS, ".1f", "CSI", 23, 32, 7, 8)),
        color=alt.Color("series:N", scale=alt.Scale(domain=SCATTER_NAMES, range=SCATTER_COLORS), legend=leg),
        shape=alt.Shape("series:N", scale=alt.Scale(domain=SCATTER_NAMES, range=SCATTER_SHAPES), legend=leg),
        size=alt.Size("series:N", scale=alt.Scale(domain=SCATTER_NAMES, range=SCATTER_SIZES), legend=leg),
    )
    txt = note_layer(notes, nx, ny, xs, ys, 85)
    gh = ghost_layer(xs, ys, xdom, [0, 1], xvals, CSI_TICKS)
    return alt.layer(pts, txt, gh).resolve_axis(x="independent", y="independent").properties(
        width=w, height=h,
        title=alt.TitleParams(title, font=FONT, fontSize=32, fontWeight="normal", color="black", offset=-10))


def line_panel(series, names, colors, dashes, ydom, yvals, yfmt, ytitle, title, notes, nx, ny, lx, ly, w, h):
    rows = []
    for name, (xv, yv) in zip(names, series):
        for x, y in zip(xv, yv):
            rows.append({"x": x, "y": y, "series": name})
    df = pd.DataFrame(rows)
    xs = alt.Scale(domain=[0, 100000], nice=False, zero=False)
    ys = alt.Scale(domain=ydom, nice=False, zero=False)
    leg = alt.Legend(title=None, orient="none", legendX=lx, legendY=ly, strokeColor="black",
                     fillColor="white", padding=6, symbolOffset=9, labelOffset=23, rowPadding=4,
                     labelFont=FONT, labelFontSize=23, labelColor="black", cornerRadius=0,
                     symbolType="stroke", symbolSize=1156, symbolStrokeWidth=3)
    last_right = {"condition": {"test": "datum.value === 100000", "value": "right"}, "value": "center"}
    lines = alt.Chart(df).mark_line(strokeWidth=3, clip=True).encode(
        x=alt.X("x:Q", scale=xs, axis=x_axis(BD_XTICKS, "d", "Minimum Threshold on Manually Unfolded Gates",
                                             22, 23.5, 7, 7,
                                             "datum.value % 20000 === 0 ? datum.label : ''", last_right)),
        y=alt.Y("y:Q", scale=ys, axis=y_axis(yvals, yfmt, ytitle, 22, 31, 6, 10)),
        color=alt.Color("series:N", scale=alt.Scale(domain=names, range=colors), legend=leg),
        strokeDash=alt.StrokeDash("series:N", scale=alt.Scale(domain=names, range=dashes), legend=leg),
    )
    txt = note_layer(notes, nx, ny, xs, ys, 95)
    gh = ghost_layer(xs, ys, [0, 100000], ydom, BD_XTICKS, yvals)
    return alt.layer(lines, txt, gh).resolve_axis(x="independent", y="independent").properties(
        width=w, height=h,
        title=alt.TitleParams(title, font=FONT, fontSize=31, fontWeight="normal", color="black", offset=-10))


panel_a = scatter_panel(A_REGION, A_PHASE, A_4DD, [0, 900000], A_XTICKS, "d",
                        "(a) Cruise 3 Critical Skill Index", A_NOTE, A_NOTE_X, A_NOTE_Y, 718, 647, 892, 770)
panel_c = scatter_panel(C_REGION, C_PHASE, C_4DD, [0, 1000], C_XTICKS, "d",
                        "(b) Cruise 3 Zoomed In", C_NOTE, C_NOTE_X, C_NOTE_Y, 717, 644, 892, 769)
panel_b = line_panel([(REGION_POD_X, REGION_POD_Y), (REGION_CSI_X, REGION_CSI_Y), (PHASE_POD_X, PHASE_POD_Y),
                      (PHASE_CSI_X, PHASE_CSI_Y), (DD_POD_X, DD_POD_Y), (DD_CSI_X, DD_CSI_Y)],
                     B_NAMES, B_COLORS, B_DASHES, [0.75, 1.0], B_YTICKS, ".2f", "POD or CSI",
                     "(a) TOGA DYNAMO Cruise 3 POD & CSI", B_NOTE, B_NOTE_X, B_NOTE_Y, 624, 288, 864, 783)
panel_d = line_panel([(REGION_FAR_X, REGION_FAR_Y), (PHASE_FAR_X, PHASE_FAR_Y), (DD_FAR_X, DD_FAR_Y)],
                     D_NAMES, D_COLORS, D_DASHES, [0.0, 0.25], D_YTICKS, ".2f", "FAR",
                     "(b) TOGA DYNAMO Cruise 3 FAR", D_NOTE, D_NOTE_X, D_NOTE_Y, 631, 340, 864, 783)

RES = dict(x="independent", y="independent", color="independent", shape="independent",
           size="independent", strokeDash="independent")

left = alt.vconcat(panel_a, panel_c, spacing=51).resolve_scale(**RES)
right = alt.vconcat(panel_b, panel_d, spacing=61).resolve_scale(**RES)

chart = alt.hconcat(left, right, spacing=63).resolve_scale(**RES).properties(
    title=alt.TitleParams("Cruise 3", font=NOTE_FONT, fontSize=96, fontWeight="bold", color="black",
                          anchor="middle", offset=19, dx=36),
    padding={"left": 57, "top": 30, "right": 0, "bottom": 0},
).configure_view(
    stroke="black", strokeWidth=1.5
).configure_axis(
    grid=False, domain=False, tickColor="black", tickSize=TICK, offset=-TICK, labelColor="black",
    titleColor="black", labelFont=FONT, titleFont=FONT, titleFontWeight="normal", labelFlush=False,
    labelOverlap=False,
)

chart.save("out.html", embed_options={"renderer": "svg", "actions": False})
